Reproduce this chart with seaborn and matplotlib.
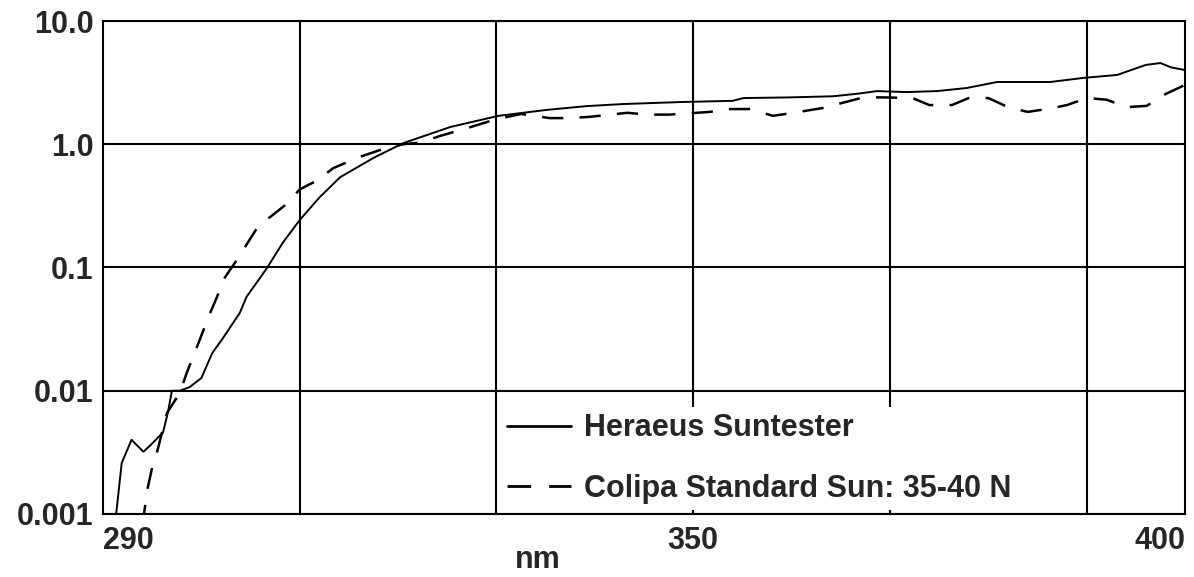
import seaborn as sns
import pandas as pd
import numpy as np
import matplotlib.pyplot as plt
from matplotlib.ticker import FixedLocator, NullLocator

sns.set_style('white')
plt.rcParams['font.family'] = ['Liberation Sans', 'DejaVu Sans']
plt.rcParams['font.weight'] = 'bold'

# Heraeus Suntester (solid line)
heraeus_nm = [291.2, 291.9, 292.9, 294.1, 294.8, 296.1, 296.6, 297.0, 297.8, 298.8,
              300.0, 301.1, 302.2, 303.9, 304.6, 305.8, 306.7, 308.3, 310.0, 312.0,
              314.1, 317.5, 320.5, 325.3, 330.2, 335.1, 339.2, 342.9, 348.7, 354.0,
              355.1, 359.8, 364.2, 366.7, 368.7, 371.7, 374.8, 377.8, 380.9, 386.3,
              389.6, 393.1, 396.0, 397.5, 398.6, 400.0]
heraeus_val = [0.0008, 0.0026, 0.0040, 0.0032, 0.0036, 0.0046, 0.0067, 0.0100, 0.0100, 0.0107,
               0.0127, 0.0202, 0.0268, 0.0428, 0.058, 0.079, 0.100, 0.16, 0.243, 0.37,
               0.54, 0.775, 1.02, 1.38, 1.70, 1.90, 2.04, 2.12, 2.20, 2.25,
               2.37, 2.40, 2.45, 2.57, 2.70, 2.65, 2.70, 2.86, 3.20, 3.20,
               3.45, 3.65, 4.40, 4.56, 4.20, 4.00]

# Colipa Standard Sun (dashed line)
colipa_nm = [294.0, 294.5, 295.0, 295.5, 296.5, 297.8, 298.5, 299.9, 300.9, 301.6,
             302.2, 303.6, 305.5, 306.8, 308.5, 310.0, 311.8, 313.4, 316.1, 318.2,
             320.5, 322.2, 324.3, 327.0, 330.0, 332.5, 335.4, 337.5, 339.5, 343.3,
             345.3, 347.6, 349.5, 351.7, 353.5, 355.8, 358.1, 360.2, 363.2, 365.2,
             367.3, 369.3, 372.3, 374.0, 376.3, 378.0, 380.0, 382.0, 384.0, 386.3,
             388.0, 390.0, 392.0, 394.1, 396.1, 398.0, 400.0]
colipa_val = [0.0008, 0.00157, 0.0024, 0.0032, 0.0066, 0.0096, 0.0139, 0.0268, 0.043, 0.058,
              0.079, 0.115, 0.20, 0.25, 0.32, 0.43, 0.51, 0.64, 0.79, 0.90,
              1.00, 1.03, 1.17, 1.35, 1.60, 1.76, 1.63, 1.63, 1.67, 1.80,
              1.74, 1.74, 1.78, 1.83, 1.93, 1.93, 1.70, 1.80, 1.97, 2.17,
              2.40, 2.40, 2.37, 2.08, 2.08, 2.37, 2.37, 2.00, 1.83, 1.95,
              2.08, 2.37, 2.30, 2.00, 2.05, 2.55, 3.03]

x_ticks = [290, 350, 400]
x_grid = [310, 330, 350, 370, 390]
y_ticks = [0.001, 0.01, 0.1, 1, 10]
y_labels = ['0.001', '0.01', '0.1', '1.0', '10.0']

fig, ax = plt.subplots(figsize=(11.94, 5.77), dpi=100)
fig.subplots_adjust(left=0.0863, right=0.9925, bottom=0.1092, top=0.9636)

sns.lineplot(x=heraeus_nm, y=heraeus_val, ax=ax, color='black', lw=1.4,
             label='Heraeus Suntester')
sns.lineplot(x=colipa_nm, y=colipa_val, ax=ax, color='black', lw=1.8,
             linestyle=(0, (8.5, 6.5)), label='Colipa Standard Sun: 35-40 N')

ax.set_yscale('log')
ax.set_xlim(290, 400)
ax.set_ylim(0.001, 10)
ax.yaxis.set_major_locator(FixedLocator(y_ticks))
ax.yaxis.set_minor_locator(NullLocator())
ax.set_yticklabels(y_labels)
ax.xaxis.remove_overlapping_locs = False
ax.xaxis.set_major_locator(FixedLocator(x_ticks))
ax.xaxis.set_minor_locator(FixedLocator(x_grid))
ax.set_xticklabels([str(t) for t in x_ticks])

ax.grid(True, which='major', axis='y', color='black', lw=1.5)
ax.grid(True, which='minor', axis='x', color='black', lw=1.5)
ax.grid(False, which='major', axis='x')
ax.tick_params(which='both', length=0)
ax.tick_params(axis='y', labelsize=22, pad=7)
ax.tick_params(axis='x', labelsize=22, pad=9)
labels = ax.get_xticklabels()
labels[0].set_ha('left')
labels[-1].set_ha('right')

for sp in ax.spines.values():
    sp.set_color('black')
    sp.set_linewidth(1.5)

ax.set_ylabel('')
ax.set_xlabel('nm', fontsize=22, fontweight='bold')
ax.xaxis.set_label_coords(0.402, -0.062)

leg = ax.legend(loc='lower left', bbox_to_anchor=(0.368, 0.008), frameon=True,
                facecolor='white', edgecolor='none', framealpha=1, fancybox=False,
                prop={'weight': 'bold', 'size': 22}, handlelength=2.1,
                handletextpad=0.4, labelspacing=1.0, borderpad=0.2, borderaxespad=0)
for line in leg.get_lines():
    line.set_linewidth(2)

fig.savefig('out.png', dpi=100)
